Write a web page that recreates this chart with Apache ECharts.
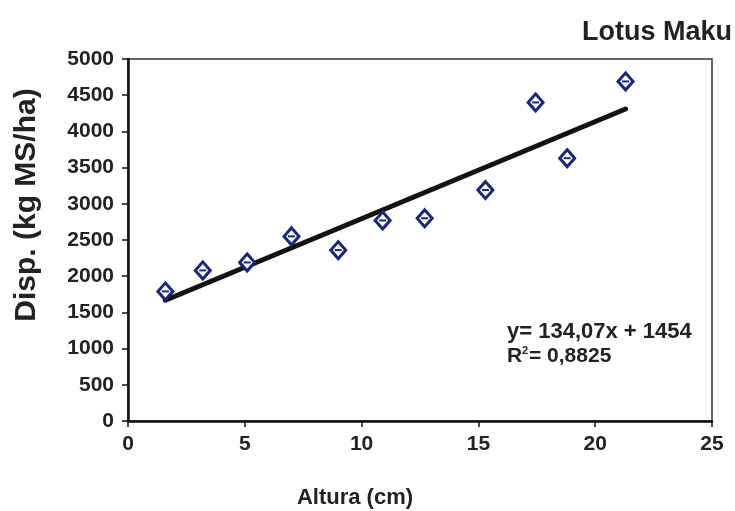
<!DOCTYPE html>
<html>
<head>
<meta charset="utf-8">
<script src="https://cdn.jsdelivr.net/npm/echarts@6/dist/echarts.min.js"></script>
<style>html,body{margin:0;padding:0;background:#fff}#c{width:735px;height:511px}</style>
</head>
<body>
<div id="c"></div>
<script>
var alturaX = [1.6, 3.2, 5.1, 7.0, 9.0, 10.9, 12.7, 15.3, 17.45, 18.8, 21.3];
var dispY = [1790, 2080, 2190, 2550, 2360, 2770, 2800, 3190, 4400, 3630, 4690];
var slope = 134.07, intercept = 1454;
var xTicks = [0, 5, 10, 15, 20, 25];
var yTicks = [0, 500, 1000, 1500, 2000, 2500, 3000, 3500, 4000, 4500, 5000];

var pts = alturaX.map(function (x, i) { return [x, dispY[i]]; });
var xmin = Math.min.apply(null, alturaX), xmax = Math.max.apply(null, alturaX);
var trend = [[xmin, slope * xmin + intercept], [xmax, slope * xmax + intercept]];

var font = 'Liberation Sans, Arial, sans-serif';
var txt = '#222';
var chart = echarts.init(document.getElementById('c'));
chart.setOption({
  animation: false,
  backgroundColor: '#fff',
  title: {
    text: 'Lotus Maku', right: -2, top: 14,
    textStyle: { fontFamily: font, fontWeight: 'bold', fontSize: 27, color: txt }
  },
  grid: { left: 128, right: 23, top: 59, bottom: 90, show: true, borderColor: '#333', borderWidth: 1.5 },
  xAxis: {
    type: 'value', min: 0, max: 25, interval: 5,
    axisLine: { show: true, lineStyle: { color: '#111', width: 2.5 } },
    axisTick: { show: true, inside: false, length: 6, lineStyle: { color: '#111', width: 1.5 } },
    axisLabel: { fontFamily: font, fontWeight: 'bold', fontSize: 21, color: txt, margin: 13,
      formatter: function (v) { return xTicks.indexOf(v) >= 0 ? String(v) : ''; } },
    splitLine: { show: false }
  },
  yAxis: {
    type: 'value', min: 0, max: 5000, interval: 500,
    axisLine: { show: true, lineStyle: { color: '#111', width: 2.5 } },
    axisTick: { show: true, inside: false, length: 6, lineStyle: { color: '#111', width: 1.5 } },
    axisLabel: { fontFamily: font, fontWeight: 'bold', fontSize: 21, color: txt, margin: 14,
      formatter: function (v) { return yTicks.indexOf(v) >= 0 ? String(v) : ''; } },
    splitLine: { show: false }
  },
  series: [
    {
      type: 'line', data: trend, symbol: 'none', z: 2,
      lineStyle: { color: '#111', width: 5, cap: 'round' }
    },
    {
      type: 'scatter', data: pts, symbol: 'diamond', symbolSize: [15, 17], z: 3,
      itemStyle: { color: '#fff', borderColor: '#1a2580', borderWidth: 3, opacity: 1 }
    },
    {
      type: 'scatter', data: pts, symbol: 'rect', symbolSize: [7, 2], z: 4,
      itemStyle: { color: '#1a2580', opacity: 1 }
    }
  ],
  graphic: [
    { type: 'text', x: 27, y: 205, rotation: Math.PI / 2,
      style: { text: 'Disp. (kg MS/ha)', fontFamily: font, fontWeight: 'bold', fontSize: 30, fill: txt, align: 'center', verticalAlign: 'middle' } },
    { type: 'text', x: 355, y: 498,
      style: { text: 'Altura (cm)', fontFamily: font, fontWeight: 'bold', fontSize: 22, fill: txt, align: 'center', verticalAlign: 'middle' } },
    { type: 'text', x: 507, y: 332,
      style: { text: 'y= 134,07x + 1454', fontFamily: font, fontWeight: 'bold', fontSize: 22, fill: txt, verticalAlign: 'middle' } },
    { type: 'text', x: 507, y: 356,
      style: { text: 'R', fontFamily: font, fontWeight: 'bold', fontSize: 21, fill: txt, verticalAlign: 'middle' } },
    { type: 'text', x: 522, y: 351,
      style: { text: '2', fontFamily: font, fontWeight: 'bold', fontSize: 11, fill: txt, verticalAlign: 'middle' } },
    { type: 'text', x: 529, y: 356,
      style: { text: '= 0,8825', fontFamily: font, fontWeight: 'bold', fontSize: 21, fill: txt, verticalAlign: 'middle' } }
  ]
});
</script>
</body>
</html>
